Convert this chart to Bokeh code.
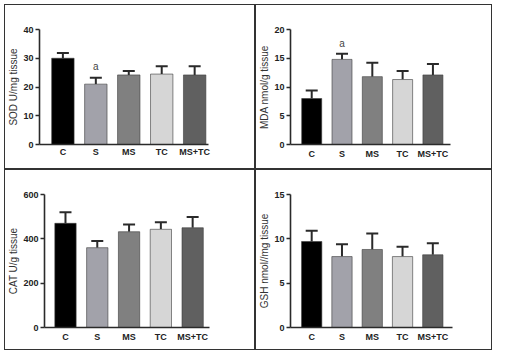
from bokeh.plotting import figure
from bokeh.models import FixedTicker, Whisker, TeeHead, ColumnDataSource, Range1d
from bokeh.layouts import row, column
from bokeh.core.properties import value
from bokeh.embed import file_html
from bokeh.resources import INLINE

categories = ["C", "S", "MS", "TC", "MS+TC"]
colors = ["#000000", "#a2a2aa", "#808080", "#d6d6d6", "#606060"]

sod_mean = [30.0, 21.0, 24.2, 24.5, 24.2]
sod_err = [1.8, 2.2, 1.4, 2.7, 3.0]
mda_mean = [8.0, 14.8, 11.8, 11.3, 12.1]
mda_err = [1.4, 1.0, 2.4, 1.5, 1.9]
cat_mean = [470, 360, 432, 443, 450]
cat_err = [50, 30, 33, 32, 48]
gsh_mean = [9.7, 8.0, 8.8, 8.0, 8.2]
gsh_err = [1.2, 1.4, 1.8, 1.1, 1.3]

sod_ticks = [0, 10, 20, 30, 40]
mda_ticks = [0, 5, 10, 15, 20]
cat_ticks = [0, 200, 400, 600]
gsh_ticks = [0, 5, 10, 15]

FONT = "Liberation Sans"
AX = "#2a2a2a"


def panel(means, errs, ticks, label, w, h, ml, mr, mt, mb, xr, bw,
          sig=None, xstand=4):
    xs = list(range(len(categories)))
    p = figure(width=w, height=h, output_backend="svg", toolbar_location=None,
               x_range=Range1d(*xr), y_range=Range1d(ticks[0], ticks[-1]),
               min_border_left=ml, min_border_right=mr,
               min_border_top=mt, min_border_bottom=mb)
    p.outline_line_color = None
    p.grid.visible = False
    p.background_fill_color = "white"
    p.border_fill_color = "white"
    src = ColumnDataSource(dict(x=xs, top=means, color=colors,
                                up=[m + e for m, e in zip(means, errs)]))
    p.vbar(x="x", top="top", width=bw, bottom=0, fill_color="color",
           line_color="#3a3a3a", line_width=0.6, source=src)
    wk = Whisker(base="x", upper="up", lower="top", source=src,
                 line_color=AX, line_width=2,
                 lower_head=None,
                 upper_head=TeeHead(size=12, line_color=AX, line_width=2))
    p.add_layout(wk)
    if sig is not None:
        idx, yv = sig
        p.text(x=[idx], y=[yv], text=["a"], text_align="center",
               text_baseline="middle", text_font_size="10px",
               text_color="#444444", text_font=value(FONT))
    p.xaxis.ticker = FixedTicker(ticks=xs)
    p.xaxis.major_label_overrides = {i: c for i, c in enumerate(categories)}
    p.yaxis.ticker = FixedTicker(ticks=ticks)
    p.yaxis.minor_tick_line_color = None
    p.xaxis.minor_tick_line_color = None
    p.xaxis.major_tick_out = 0
    p.xaxis.major_tick_in = 0
    p.yaxis.major_tick_in = 0
    p.yaxis.major_tick_out = 4
    for ax in (p.xaxis, p.yaxis):
        ax.axis_line_color = AX
        ax.axis_line_width = 1.6
        ax.major_tick_line_color = AX
        ax.major_tick_line_width = 1.6
        ax.major_label_text_font = FONT
        ax.major_label_text_font_style = "bold"
        ax.major_label_text_font_size = "9px"
        ax.major_label_text_color = "#222222"
        ax.major_label_standoff = 2
    p.xaxis.major_label_standoff = xstand
    p.xaxis.major_tick_line_color = None
    p.yaxis.axis_label = label
    p.yaxis.axis_label_text_font = FONT
    p.yaxis.axis_label_text_font_style = "normal"
    p.yaxis.axis_label_text_font_size = "10px"
    p.yaxis.axis_label_text_color = "#333333"
    p.yaxis.axis_label_standoff = 1
    p.styles = {"border": "1px solid #333333", "box-sizing": "border-box"}
    return p


p1 = panel(sod_mean, sod_err, sod_ticks, "SOD U/mg tissue", 251, 165,
           27, 48, 24, 18, (-0.71, 4.42), 0.68, sig=(1, 27.3), xstand=2)
p2 = panel(mda_mean, mda_err, mda_ticks, "MDA nmol/g tissue", 237, 165,
           25, 43, 24, 26, (-0.70, 4.58), 0.66, sig=(1, 17.5))
p3 = panel(cat_mean, cat_err, cat_ticks, "CAT U/g tissue", 251, 181,
           32, 47, 24, 21, (-0.66, 4.53), 0.67)
p4 = panel(gsh_mean, gsh_err, gsh_ticks, "GSH nmol//mg tissue", 237, 181,
           25, 41, 23, 24, (-0.70, 4.65), 0.67)

layout = column(row(p1, p2, spacing=0), row(p3, p4, spacing=0), spacing=0)
layout.styles = {"margin-left": "4px", "margin-top": "4px"}

open("out.html", "w").write(file_html(layout, INLINE))
